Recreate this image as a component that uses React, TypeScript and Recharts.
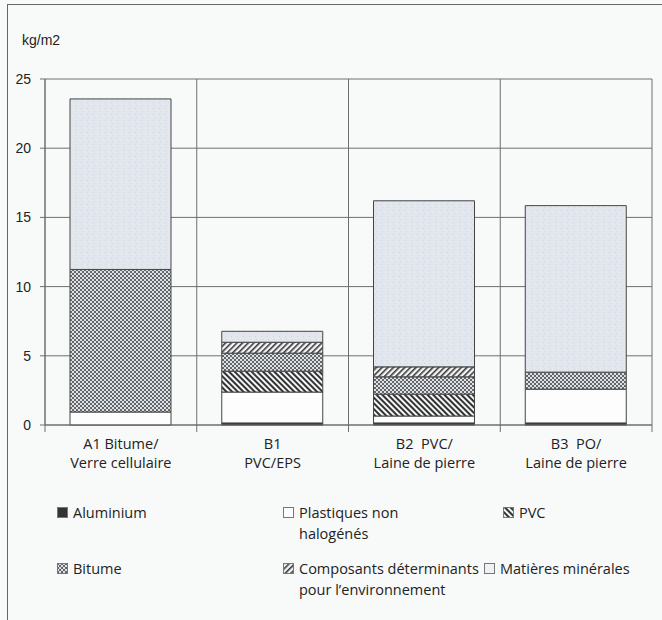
import React from 'react';
import { BarChart, Bar, XAxis, YAxis, CartesianGrid, Legend } from 'recharts';

const catLine1 = ['A1 Bitume/', 'B1', 'B2  PVC/', 'B3  PO/'];
const catLine2 = ['Verre cellulaire', 'PVC/EPS', 'Laine de pierre', 'Laine de pierre'];

const aluminium = [0, 0.15, 0.15, 0.15];
const plastiques = [0.94, 2.23, 0.5, 2.44];
const pvc = [0, 1.51, 1.58, 0];
const bitume = [10.3, 1.3, 1.25, 1.23];
const composants = [0, 0.79, 0.72, 0];
const minerales = [12.32, 0.79, 12.0, 12.03];

const yTicks = [0, 5, 10, 15, 20, 25];

const seriesKeys = ['aluminium', 'plastiques', 'pvc', 'bitume', 'composants', 'minerales'];
const seriesLabels = [
  'Aluminium',
  'Plastiques non\nhalogénés',
  'PVC',
  'Bitume',
  'Composants déterminants\npour l\u2019environnement',
  'Matières minérales',
];
const seriesFills = ['#333333', '#fdfdfd', 'url(#pPvc)', 'url(#pBit)', 'url(#pComp)', 'url(#pMin)'];

const data = catLine1.map((c, i) => ({
  name: c,
  aluminium: aluminium[i],
  plastiques: plastiques[i],
  pvc: pvc[i],
  bitume: bitume[i],
  composants: composants[i],
  minerales: minerales[i],
}));

const FONT = "'Open Sans', sans-serif";
const GRID = '#6e6e6e';

const CatTick = (props: any) => {
  const { x, y, index, width, visibleTicksCount } = props;
  const n = visibleTicksCount || catLine1.length;
  const w = (width || 607) / n;
  const top = y - 8;
  return (
    <g>
      <line x1={x - w / 2} y1={top} x2={x - w / 2} y2={top + 7} stroke={GRID} />
      {index === n - 1 && <line x1={x + w / 2} y1={top} x2={x + w / 2} y2={top + 7} stroke={GRID} />}
      <text x={x} y={y} textAnchor="middle" fontFamily={FONT} fontSize={14.5} fill="#222" style={{ whiteSpace: 'pre' }}>
        <tspan x={x} dy={16}>{catLine1[index]}</tspan>
        <tspan x={x} dy={19}>{catLine2[index]}</tspan>
      </text>
    </g>
  );
};

const itemPos = [
  [49, 11],
  [275, 11],
  [495, 11],
  [49, 67],
  [275, 67],
  [476, 67],
];

const LegendContent = () => (
  <div style={{ position: 'relative', width: 654, height: 110, fontFamily: FONT, fontSize: 14.5, color: '#222' }}>
    {seriesLabels.map((lab, i) => (
      <div key={lab} style={{ position: 'absolute', left: itemPos[i][0], top: itemPos[i][1] - 10.5 }}>
        <svg width={11} height={11} style={{ position: 'absolute', left: 0, top: 5 }}>
          <rect x={0.5} y={0.5} width={10} height={10} fill={i === 5 ? '#eef1f5' : seriesFills[i]} stroke="#777" strokeWidth={1} />
        </svg>
        <div style={{ position: 'absolute', left: 16, top: 0, lineHeight: '21px', whiteSpace: 'pre' }}>{lab}</div>
      </div>
    ))}
  </div>
);

export default function App() {
  return (
    <div style={{ position: 'absolute', left: 0, top: 0, width: 662, height: 620, background: '#f8fafa' }}>
      <div
        style={{
          position: 'absolute',
          left: 7,
          top: 4,
          width: 655,
          height: 616,
          borderLeft: '1px solid #666',
          borderTop: '1px solid #666',
        }}
      >
        <BarChart width={654} height={615} data={data} margin={{ top: 74, right: 10, left: 0, bottom: 150 }} barSize={101}>
          <defs>
            <pattern id="pPvc" width="4" height="4" patternUnits="userSpaceOnUse" patternTransform="rotate(-45)">
              <rect width="4" height="4" fill="#f4f5f6" />
              <rect width="2" height="4" fill="#333" />
            </pattern>
            <pattern id="pComp" width="4" height="4" patternUnits="userSpaceOnUse" patternTransform="rotate(45)">
              <rect width="4" height="4" fill="#f4f5f6" />
              <rect width="1.6" height="4" fill="#3a3a3a" />
            </pattern>
            <pattern id="pBit" width="4" height="4" patternUnits="userSpaceOnUse">
              <rect width="4" height="4" fill="#dbe1e9" />
              <rect width="2" height="2" fill="#666" />
              <rect x="2" y="2" width="2" height="2" fill="#666" />
            </pattern>
            <pattern id="pMin" width="6" height="6" patternUnits="userSpaceOnUse">
              <rect width="6" height="6" fill="#e2e7ef" />
              <rect x="1" y="1" width="1" height="1" fill="#cfd5de" />
              <rect x="4" y="3" width="1" height="1" fill="#eceee8" />
              <rect x="2" y="4" width="1" height="1" fill="#d3d8e0" />
            </pattern>
          </defs>
          <CartesianGrid
            stroke={GRID}
            strokeWidth={1}
            vertical
            horizontal
            verticalCoordinatesGenerator={(p: any) =>
              [0, 1, 2, 3, 4].map((i) => p.offset.left + (i * p.offset.width) / catLine1.length)
            }
          />
          <XAxis
            dataKey="name"
            height={45}
            axisLine={{ stroke: GRID }}
            tickLine={false}
            interval={0}
            tick={<CatTick />}
          />
          <YAxis
            width={37}
            domain={[0, 25]}
            ticks={yTicks}
            tickSize={5}
            tickMargin={9}
            axisLine={{ stroke: GRID }}
            tickLine={{ stroke: GRID }}
            tick={{ fontFamily: "'Liberation Sans', Arial, sans-serif", fontSize: 14, fill: '#222' }}
            label={{
              content: (p: any) => (
                <text
                  x={p.viewBox.x + 14}
                  y={p.viewBox.y - 34}
                  fontFamily="'Liberation Sans', Arial, sans-serif"
                  fontSize={14}
                  fill="#222"
                >
                  kg/m2
                </text>
              ),
            }}
          />
          {seriesKeys.map((k, i) => (
            <Bar
              key={k}
              dataKey={k}
              stackId="a"
              fill={seriesFills[i]}
              stroke="#444"
              strokeWidth={1}
              isAnimationActive={false}
            />
          ))}
          <Legend
            layout="horizontal"
            verticalAlign="middle"
            align="center"
            content={<LegendContent />}
            wrapperStyle={{ left: 0, top: 496, width: 654, height: 110 }}
          />
        </BarChart>
      </div>
    </div>
  );
}
